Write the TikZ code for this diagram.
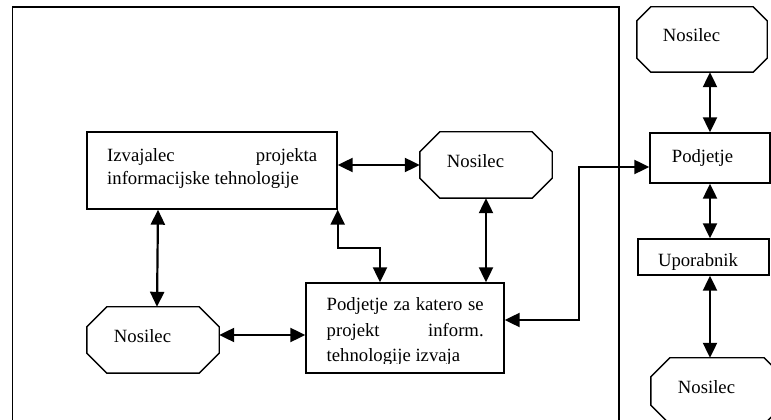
\documentclass[tikz,border=0pt]{standalone}
\usepackage{fontspec}
\setmainfont{Liberation Serif}
\usetikzlibrary{arrows.meta}
\tikzset{
  box/.style={draw, line width=1.4pt, rectangle, inner sep=0pt},
  octo/.style={inner sep=0pt, append after command={\pgfextra{\let\octnode\tikzlastnode
    \draw[line width=1.4pt, line join=miter]
    ([xshift=#1]\octnode.north west) -- ([xshift=-#1]\octnode.north east)
    -- ([yshift=-#1]\octnode.north east) -- ([yshift=#1]\octnode.south east)
    -- ([xshift=-#1]\octnode.south east) -- ([xshift=#1]\octnode.south west)
    -- ([yshift=#1]\octnode.south west) -- ([yshift=-#1]\octnode.north west) -- cycle;}}},
  octo/.default=20pt,
  txt/.style={inner sep=0pt, font=\fontsize{18.7}{23.3}\selectfont},
  arr/.style={line width=2.2pt, {Triangle[length=15pt,width=14pt]}-{Triangle[length=15pt,width=14pt]}},
  frame/.style={draw, line width=1.4pt}
}
\begin{document}
\begin{tikzpicture}[x=1pt,y=1pt]
\useasboundingbox (0,0) rectangle (771,420);
\clip (0,0) rectangle (771,420);
\fill[white] (0,0) rectangle (771,420);
% outer frame
\draw[frame] (12.5,413) rectangle (619,-10);
% nodes
\node[box, minimum width=250pt, minimum height=77pt] (izv) at (212,249.5) {};
\node[octo, minimum width=132pt, minimum height=66pt] (nosM) at (486,255) {};
\node[octo, minimum width=132pt, minimum height=66pt] (nosBL) at (153,80) {};
\node[box, minimum width=198pt, minimum height=90pt] (pod) at (405,92) {};
\node[octo=14pt, minimum width=130pt, minimum height=65pt] (nosTR) at (702,380.5) {};
\node[box, minimum width=120pt, minimum height=50pt] (podR) at (710,262) {};
\node[box, minimum width=131pt, minimum height=36pt] (upo) at (703.5,163) {};
\node[octo=19pt, minimum width=132pt, minimum height=66pt] (nosBR) at (717,29) {};
% texts
\node[txt, anchor=base west] (izvT) at ([xshift=-105pt,yshift=9pt]izv.center)
  {\vtop{\baselineskip=23.3pt\hbox to 210pt{Izvajalec\hfill projekta}\hbox{informacijske tehnologije}}};
\begin{scope}
\clip (pod.north west) rectangle ([yshift=10pt]pod.south east);
\node[txt, anchor=base west] (podT) at ([xshift=-78.5pt,yshift=17pt]pod.center)
  {\vtop{\baselineskip=25.5pt\hbox to 157pt{Podjetje za katero se}\hbox to 157pt{projekt\hfill inform.}\hbox{tehnologije izvaja}}};
\end{scope}
\node[txt, anchor=base] (nosMT) at ([xshift=-10.5pt,yshift=-2.5pt]nosM.center) {Nosilec};
\node[txt, anchor=base] (nosBLT) at ([xshift=-10.5pt,yshift=-2.5pt]nosBL.center) {Nosilec};
\node[txt, anchor=base] (nosTRT) at ([xshift=-10.5pt,yshift=-2.5pt]nosTR.center) {Nosilec};
\node[txt, anchor=base] (nosBRT) at ([xshift=-10.5pt,yshift=-2.5pt]nosBR.center) {Nosilec};
\node[txt, anchor=base] (podRT) at ([xshift=-7.5pt,yshift=-4.7pt]podR.center) {Podjetje};
\node[txt, anchor=base] (upoT) at ([xshift=-5.5pt,yshift=-10pt]upo.center) {Uporabnik};
% connectors
\draw[arr] (nosM.west -| izv.east) -- (nosM.west);
\draw[arr] ([xshift=-54pt]izv.south) -- ([xshift=4pt]nosBL.north);
\coordinate (c3) at ([yshift=5pt]nosBL.east);
\draw[arr] (c3) -- (c3 -| pod.west);
\draw[arr] (izv.south east) -- ++(0,-38) -| ([xshift=-25pt]pod.north);
\draw[arr] (nosM.south) -- (nosM.south |- pod.north);
\coordinate (c6) at ([yshift=-9pt]podR.west);
\draw[arr] ([yshift=8pt]pod.east) -- ++(74,0) |- (c6);
\draw[arr] ([xshift=8pt]nosTR.south) -- (podR.north);
\draw[arr] (podR.south) -- (podR.south |- upo.north);
\draw[arr] (podR.south |- upo.south) -- (podR.south |- nosBR.north);
\end{tikzpicture}
\end{document}
